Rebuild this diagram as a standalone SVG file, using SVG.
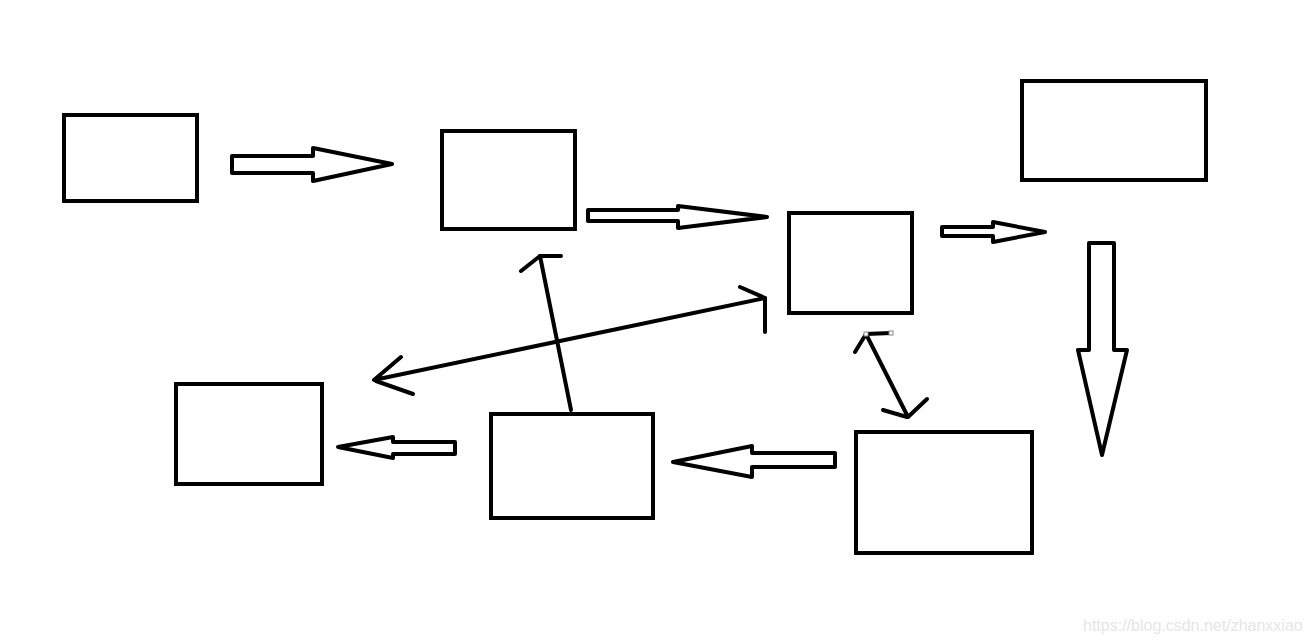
<svg xmlns="http://www.w3.org/2000/svg" width="1309" height="643" viewBox="0 0 1309 643">
<style>
.box{fill:#fff;stroke:#000;stroke-width:4}
.blk{fill:#fff;stroke:#000;stroke-width:4;stroke-linejoin:round}
.ln{fill:none;stroke:#000;stroke-width:4;stroke-linecap:round;stroke-linejoin:round}
.wm{font-family:"Liberation Sans",Arial,sans-serif;font-size:16px;fill:#e6e6e6}
</style>
<rect width="1309" height="643" fill="#fff"/>
<g id="n1"><rect class="box" x="64" y="115" width="133" height="86"/></g>
<g id="n2"><rect class="box" x="442" y="131" width="133" height="98"/></g>
<g id="n3"><rect class="box" x="789" y="213" width="123" height="100"/></g>
<g id="n4"><rect class="box" x="1022" y="81" width="184" height="99"/></g>
<g id="n5"><rect class="box" x="176" y="384" width="146" height="100"/></g>
<g id="n6"><rect class="box" x="491" y="414" width="162" height="104"/></g>
<g id="n7"><rect class="box" x="856" y="432" width="176" height="121"/></g>
<g id="connectors">
<polygon class="blk" points="232,156 313,156 313,148 392,164 313,181 313,173 232,173"/>
<polygon class="blk" points="588,210 678,210 678,206 767,217 678,228 678,221 588,221"/>
<polygon class="blk" points="942,227 993,227 993,222 1045,232 993,242 993,236 942,236"/>
<polygon class="blk" points="1089,243 1114,243 1114,350 1127,350 1102,455 1078,350 1089,350"/>
<polygon class="blk" points="455,442 393,442 393,437 338,447 393,458 393,454 455,454"/>
<polygon class="blk" points="835,453 752,453 752,446 673,462 752,477 752,467 835,467"/>
<polyline class="ln" points="401,357 374,380 765,298"/>
<polyline class="ln" points="413,394 376,381"/>
<polyline class="ln" points="740,287 765,298 765,332"/>
<polyline class="ln" points="571,410 540,256 561,256"/>
<polyline class="ln" points="521,271 540,256"/>
<polyline class="ln" points="855,352 866,334 908,417 927,399"/>
<polyline class="ln" points="866,334 891,333"/>
<polyline class="ln" points="883,410 907,417"/>
<rect x="864" y="332" width="4" height="4" fill="#fff" stroke="#888" stroke-width="1"/>
<rect x="889" y="331" width="4" height="4" fill="#fff" stroke="#888" stroke-width="1"/>
</g>
<text class="wm" x="1083" y="631">https://blog.csdn.net/zhanxxiao</text>
</svg>
